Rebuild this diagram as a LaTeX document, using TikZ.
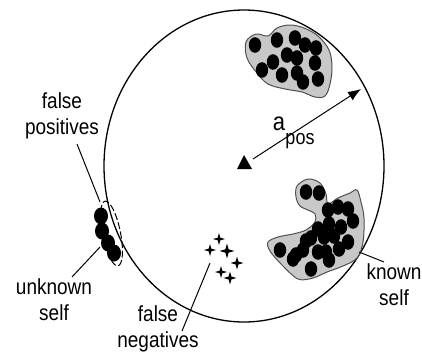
\documentclass[tikz,border=0pt]{standalone}
\usepackage{fontspec}
\setmainfont{Liberation Sans}
\usepackage{graphicx}
\usetikzlibrary{arrows.meta}
\newcommand\lbltext[1]{\scalebox{1}[1.15]{\begin{tabular}{@{}c@{}}#1\end{tabular}}}
\definecolor{blobgray}{HTML}{C8C8C8}
\definecolor{blobline}{HTML}{505050}
\begin{document}
\begin{tikzpicture}[x=1pt,y=-1pt,
  lbl/.style={inner sep=0pt,font=\fontsize{19}{23}\selectfont},
  pointer/.style={line width=1pt,black},
  blob/.style={fill=blobgray,draw=blobline,line width=1pt},
  dot/.style={fill=black}]
\useasboundingbox[fill=white] (0,0) rectangle (422,354);
% big circle (space)
\draw[line width=1.3pt] (244,166) ellipse [x radius=140, y radius=156];
% top self cluster
\path[blob] plot[smooth cycle,tension=0.6] coordinates {(246,42) (256,34) (268,36) (277,28) (290,25) (304,28) (318,36) (329,50) (332,67) (330,84) (325,96) (315,97) (302,92) (285,89) (268,84) (257,73) (247,58)};
\foreach \p in {(255,45),(277,40),(295,38),(305,45),(316,48),(287,55),(273,62),(297,58),(262,70),(282,75),(297,73),(315,63),(303,82),(318,79)}
  \fill[dot] \p ellipse [x radius=6.2, y radius=7.8];
% known self cluster
\path[blob] plot[smooth cycle,tension=0.55] coordinates {(296,197) (297,186) (308,179) (320,183) (326,194) (328,204) (338,198) (350,193) (357,190) (361,202) (364,218) (363,242) (357,258) (343,266) (327,272) (313,278) (298,279) (282,265) (270,251) (268,242) (278,237) (293,234) (306,230) (315,222) (315,214) (308,210) (300,206)};
\foreach \p in {(306,192),(319,193),(328,210),(338,207),(348,209),(353,221),(341,227),(329,224),(318,229),(311,238),(324,237),(334,236),(348,242),(339,249),(326,252),(318,252),(306,241),(303,250),(293,259),(280,250),(311,269),(329,260),(296,255)}
  \fill[dot] \p ellipse [x radius=6.2, y radius=7.8];
% unknown self cluster
\foreach \p in {(101,216),(102,231),(108,243),(114,253)}
  \fill[dot] \p ellipse [x radius=7, y radius=8.5];
\draw[line width=1pt,dash pattern=on 7pt off 2.5pt,rotate around={11.3:(111.5,233.5)}] (111.5,233.5) ellipse [x radius=9, y radius=33];
% false negatives: stars
\foreach \x/\y/\s in {219/239/6,210/250/6,227/251/7.5,237/263/6.5,221/272/6,230/278/6.5}
  \fill (\x,\y-\s) -- (\x+0.22*\s,\y-0.22*\s) -- (\x+\s,\y) -- (\x+0.22*\s,\y+0.22*\s) -- (\x,\y+\s) -- (\x-0.22*\s,\y+0.22*\s) -- (\x-\s,\y) -- (\x-0.22*\s,\y-0.22*\s) -- cycle;
% centre triangle and radius arrow
\fill (237,169) -- (252,169) -- (244,155) -- cycle;
\coordinate (centre) at (253,159);
\coordinate (rim) at (361,89);
\draw[line width=1pt,-{Latex[length=13pt,width=10pt]}] (centre) -- (rim);
\node[inner sep=0pt,font=\fontsize{22}{22}\selectfont] (a) at (279,124) {\scalebox{1}[1.15]{a}};
\node[inner sep=0pt,font=\fontsize{18}{18}\selectfont] (pos) at (300,141) {\scalebox{1}[1.15]{pos}};
% labels
\node[lbl] (fp) at (62,116) {\lbltext{false\\positives}};
\node[lbl] (us) at (54,302) {\lbltext{unknown\\self}};
\node[lbl] (fn) at (158,329) {\lbltext{false\\negatives}};
\node[lbl] (ks) at (394,287) {\lbltext{known\\self}};
% pointers
\coordinate (fpS) at (77,144);
\coordinate (fpT) at (100,202);
\coordinate (usS) at (72,277);
\coordinate (usT) at (100,247);
\coordinate (fnS) at (182,331);
\coordinate (fnT) at (210,263);
\coordinate (ksS) at (384,262);
\coordinate (ksT) at (359,252);
\draw[pointer] (fpS) -- (fpT);
\draw[pointer] (usS) -- (usT);
\draw[pointer] (fnS) -- (fnT);
\draw[pointer] (ksS) -- (ksT);
\end{tikzpicture}
\end{document}
